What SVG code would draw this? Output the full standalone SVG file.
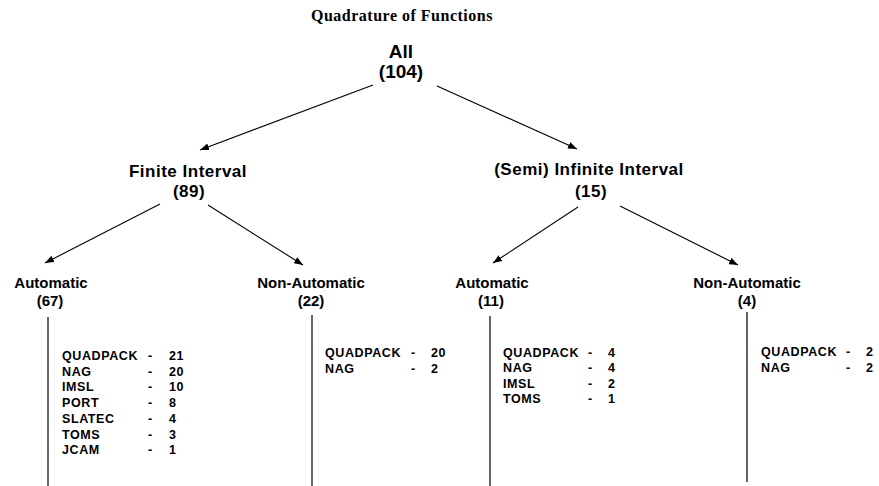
<svg xmlns="http://www.w3.org/2000/svg" width="879" height="486" viewBox="0 0 879 486">
<style>
.title{font-family:"Liberation Serif","Times New Roman",serif;font-weight:bold;font-size:16px;letter-spacing:0.5px;fill:#000}
.l0{font-family:"Liberation Sans",Arial,sans-serif;font-weight:bold;font-size:19px;fill:#000;text-anchor:middle}
.l1{font-family:"Liberation Sans",Arial,sans-serif;font-weight:bold;font-size:17px;letter-spacing:0.5px;fill:#000;text-anchor:middle}
.l2{font-family:"Liberation Sans",Arial,sans-serif;font-weight:bold;font-size:15px;fill:#000;text-anchor:middle}
.tb{font-family:"Liberation Sans",Arial,sans-serif;font-weight:bold;font-size:12.5px;letter-spacing:0.6px;fill:#000}
.edge{stroke:#000;stroke-width:1.1;fill:none}
.vline{stroke:#000;stroke-width:1.2;fill:none}
</style>
<defs>
<marker id="arr" markerUnits="userSpaceOnUse" markerWidth="9" markerHeight="7" refX="9" refY="3.5" orient="auto">
<path d="M0,0 L9,3.5 L0,7 z" fill="#000"/>
</marker>
</defs>
<rect width="879" height="486" fill="#fff"/>
<text class="title" x="311" y="21">Quadrature of Functions</text>

<g id="connectors">
<line class="edge" x1="373" y1="85" x2="200" y2="150" marker-end="url(#arr)"/>
<line class="edge" x1="437" y1="86" x2="577" y2="149" marker-end="url(#arr)"/>
<line class="edge" x1="160" y1="204" x2="45" y2="263" marker-end="url(#arr)"/>
<line class="edge" x1="208" y1="205" x2="303" y2="265" marker-end="url(#arr)"/>
<line class="edge" x1="578" y1="207" x2="493" y2="263" marker-end="url(#arr)"/>
<line class="edge" x1="620" y1="206" x2="738" y2="265" marker-end="url(#arr)"/>
<line class="vline" x1="48" y1="317" x2="48" y2="486"/>
<line class="vline" x1="312" y1="315" x2="312" y2="486"/>
<line class="vline" x1="490" y1="316" x2="490" y2="486" stroke-width="1.8"/>
<line class="vline" x1="747" y1="312" x2="747" y2="482"/>
</g>

<g id="node-all">
<text class="l0" x="401" y="58">All</text>
<text class="l0" x="401" y="78">(104)</text>
</g>
<g id="node-finite">
<text class="l1" x="188" y="177">Finite Interval</text>
<text class="l1" x="189" y="197">(89)</text>
</g>
<g id="node-infinite">
<text class="l1" x="589" y="175">(Semi) Infinite Interval</text>
<text class="l1" x="591" y="197">(15)</text>
</g>
<g id="node-finite-auto">
<text class="l2" x="51" y="288">Automatic</text>
<text class="l2" x="50" y="306">(67)</text>
</g>
<g id="node-finite-nonauto">
<text class="l2" x="311" y="288">Non-Automatic</text>
<text class="l2" x="311" y="306">(22)</text>
</g>
<g id="node-inf-auto">
<text class="l2" x="492" y="288">Automatic</text>
<text class="l2" x="491" y="306">(11)</text>
</g>
<g id="node-inf-nonauto">
<text class="l2" x="747" y="288">Non-Automatic</text>
<text class="l2" x="747" y="306">(4)</text>
</g>

<g id="table-finite-auto" class="tb">
<text x="62" y="360">QUADPACK</text><text x="148" y="360">-</text><text x="169" y="360">21</text>
<text x="62" y="375.7">NAG</text><text x="148" y="375.7">-</text><text x="169" y="375.7">20</text>
<text x="62" y="391.4">IMSL</text><text x="148" y="391.4">-</text><text x="169" y="391.4">10</text>
<text x="62" y="407.1">PORT</text><text x="148" y="407.1">-</text><text x="169" y="407.1">8</text>
<text x="62" y="422.8">SLATEC</text><text x="148" y="422.8">-</text><text x="169" y="422.8">4</text>
<text x="62" y="438.5">TOMS</text><text x="148" y="438.5">-</text><text x="169" y="438.5">3</text>
<text x="62" y="454.2">JCAM</text><text x="148" y="454.2">-</text><text x="169" y="454.2">1</text>
</g>
<g id="table-finite-nonauto" class="tb">
<text x="325" y="357">QUADPACK</text><text x="411" y="357">-</text><text x="431" y="357">20</text>
<text x="325" y="372.5">NAG</text><text x="411" y="372.5">-</text><text x="431" y="372.5">2</text>
</g>
<g id="table-inf-auto" class="tb">
<text x="503" y="357">QUADPACK</text><text x="588" y="357">-</text><text x="608" y="357">4</text>
<text x="503" y="372.3">NAG</text><text x="588" y="372.3">-</text><text x="608" y="372.3">4</text>
<text x="503" y="387.6">IMSL</text><text x="588" y="387.6">-</text><text x="608" y="387.6">2</text>
<text x="503" y="402.9">TOMS</text><text x="588" y="402.9">-</text><text x="608" y="402.9">1</text>
</g>
<g id="table-inf-nonauto" class="tb">
<text x="761" y="356">QUADPACK</text><text x="846" y="356">-</text><text x="866" y="356">2</text>
<text x="761" y="371.5">NAG</text><text x="846" y="371.5">-</text><text x="866" y="371.5">2</text>
</g>
</svg>
